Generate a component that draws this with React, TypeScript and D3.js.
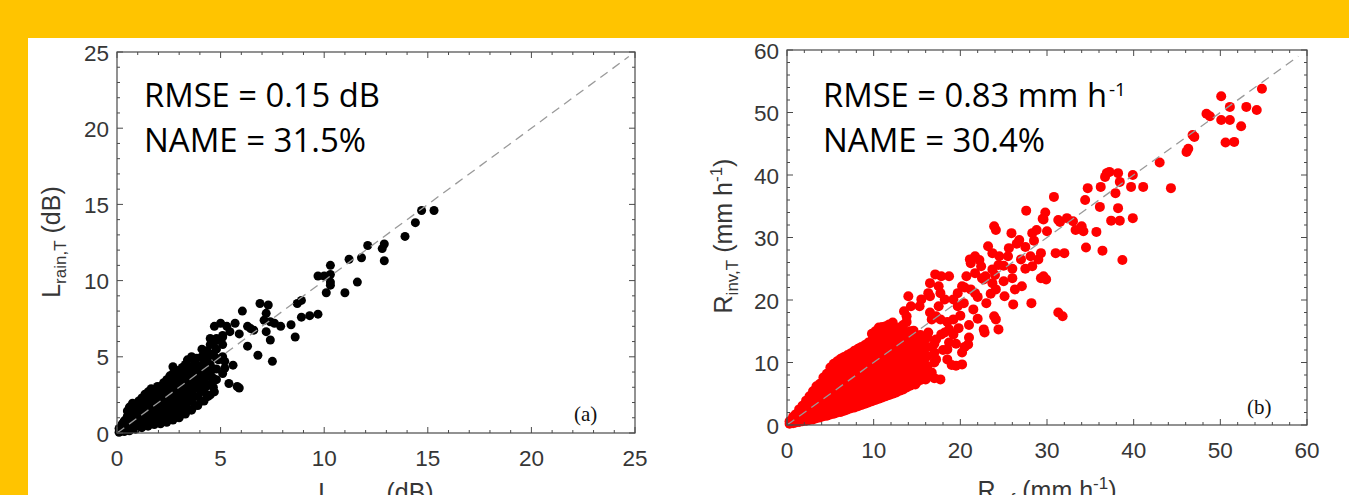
import React from "react";
import * as d3 from "d3";

// ---------- DATA ----------
const lossTicks = [0, 5, 10, 15, 20, 25];
const rainTicks = [0, 10, 20, 30, 40, 50, 60];

// dense cloud of path-loss points: [x, list of y]
const lossCloudCols: [number, number[]][] = [
  [0.1, [0.05, 0.3]],
  [0.35, [0.1, 0.45, 0.8]],
  [0.6, [0.15, 0.55, 0.95, 1.35, 1.7]],
  [0.9, [0.25, 0.65, 1.05, 1.45, 1.85]],
  [1.2, [0.35, 0.75, 1.15, 1.55, 1.95, 2.3]],
  [1.5, [0.45, 0.85, 1.3, 1.75, 2.2, 2.7]],
  [1.8, [0.55, 1.0, 1.45, 1.9, 2.35, 2.8]],
  [2.1, [0.6, 1.1, 1.6, 2.1, 2.6, 3.05]],
  [2.4, [0.7, 1.2, 1.7, 2.2, 2.7, 3.2, 3.5]],
  [2.7, [0.85, 1.35, 1.85, 2.4, 2.95, 3.45, 3.9]],
  [3.0, [1.0, 1.5, 2.0, 2.55, 3.1, 3.6, 4.1]],
  [3.3, [1.25, 1.8, 2.35, 2.9, 3.45, 4.0, 4.5]],
  [3.6, [1.5, 2.1, 2.7, 3.25, 3.8, 4.35]],
  [3.9, [1.8, 2.4, 3.0, 3.6, 4.2]],
  [4.2, [2.1, 2.8, 3.4, 4.0, 4.6, 5.2]],
  [4.5, [2.5, 3.2, 3.9, 4.5, 5.1, 5.8]],
  [4.8, [3.5, 4.2, 4.9, 5.5, 6.2]],
  [5.1, [3.9, 5.0, 5.8, 6.4]],
];
const lossCloudMid: [number, number[]][] = [
  [0.25, [0.2, 0.6]],
  [0.5, [0.3, 0.7, 1.1, 1.45]],
  [0.75, [0.4, 0.8, 1.2, 1.6, 1.95]],
  [1.05, [0.45, 0.85, 1.25, 1.7, 2.1]],
  [1.35, [0.55, 0.95, 1.35, 1.8, 2.25, 2.55]],
  [1.65, [0.65, 1.1, 1.55, 2.0, 2.5, 2.9]],
  [1.95, [0.75, 1.25, 1.7, 2.15, 2.6, 3.05]],
  [2.25, [0.85, 1.35, 1.85, 2.35, 2.85, 3.3]],
  [2.55, [0.95, 1.45, 1.95, 2.45, 2.95, 3.45, 3.75]],
  [2.85, [1.1, 1.6, 2.15, 2.7, 3.2, 3.7, 4.1]],
  [3.15, [1.25, 1.75, 2.3, 2.8, 3.35, 3.85, 4.3]],
  [3.45, [1.5, 2.05, 2.6, 3.15, 3.7, 4.25]],
  [3.75, [1.8, 2.4, 2.95, 3.5, 4.05, 4.6]],
  [4.05, [2.1, 2.7, 3.3, 3.9, 4.4]],
  [4.35, [2.4, 3.1, 3.7, 4.3, 4.9, 5.4]],
  [4.65, [3.0, 3.6, 4.2, 5.2, 5.8]],
];

const lossOutliers: [number, number][] = [
  [15.3, 14.6], [14.7, 14.6], [14.4, 13.8], [13.9, 12.9], [12.9, 12.4], [12.8, 12.1],
  [12.9, 11.3], [12.1, 12.3], [11.8, 11.5], [11.2, 11.4], [11.0, 9.2], [11.6, 9.9],
  [10.3, 11.0], [10.3, 10.4], [10.0, 10.3], [9.7, 10.3], [10.3, 9.9], [10.3, 9.7],
  [10.1, 9.2], [9.7, 7.8], [9.3, 7.7], [8.9, 7.6], [8.9, 8.7], [8.7, 8.5], [8.6, 6.3],
  [8.4, 7.1], [7.9, 7.0], [7.6, 7.2], [7.4, 7.3], [7.1, 7.4], [7.2, 7.85], [6.9, 8.5],
  [7.3, 8.4], [7.2, 6.65], [7.4, 6.1], [7.5, 4.7], [6.05, 8.0], [6.3, 7.0], [6.6, 6.75],
  [6.45, 6.85], [5.3, 7.0], [5.7, 7.2], [5.9, 6.5], [6.3, 5.7], [6.8, 5.1], [5.9, 2.95],
  [5.8, 3.05], [5.4, 3.25], [4.4, 2.4], [4.7, 2.7], [4.9, 4.8], [5.2, 4.7], [5.6, 4.45],
  [5.2, 4.25], [4.1, 5.5], [4.5, 6.2], [4.8, 6.1], [5.1, 6.3], [5.45, 6.65], [3.4, 4.8],
  [3.6, 5.0], [3.85, 4.9], [4.1, 5.0], [2.7, 4.35], [5.0, 7.2], [4.7, 7.0],
];

// dense cloud of rain-rate points: [x, list of y]
const rainCloudCols: [number, number[]][] = [
  [0.3, [0.2, 0.6]],
  [1.0, [0.4, 1.0, 1.7]],
  [1.8, [0.6, 1.4, 2.3, 3.1]],
  [2.6, [0.8, 1.8, 2.8, 3.8, 4.6]],
  [3.4, [1.1, 2.1, 3.2, 4.3, 5.4, 6.2]],
  [4.2, [1.4, 2.5, 3.6, 4.7, 5.9, 7.0, 7.6]],
  [5.0, [1.7, 2.8, 4.0, 5.2, 6.4, 7.6, 8.6, 9.2]],
  [5.8, [2.0, 3.2, 4.4, 5.6, 6.8, 8.0, 9.2, 10.2]],
  [6.6, [2.3, 3.5, 4.8, 6.1, 7.4, 8.7, 9.9, 10.9]],
  [7.4, [2.7, 3.9, 5.2, 6.5, 7.8, 9.1, 10.4, 11.5]],
  [8.2, [3.0, 4.3, 5.6, 7.0, 8.3, 9.6, 10.9, 12.2]],
  [9.0, [3.4, 4.7, 6.0, 7.4, 8.8, 10.2, 11.6, 12.8]],
  [9.8, [3.8, 5.1, 6.5, 7.9, 9.3, 10.7, 12.1, 13.5, 14.6]],
  [10.6, [4.2, 5.5, 6.9, 8.3, 9.8, 11.2, 12.6, 14.0, 15.6]],
  [11.4, [4.6, 6.0, 7.4, 8.8, 10.3, 11.8, 13.2, 14.6, 15.8]],
  [12.2, [5.0, 6.4, 7.8, 9.3, 10.8, 12.3, 13.8, 15.2, 16.4]],
  [13.0, [5.5, 6.9, 8.3, 9.8, 11.3, 12.8, 14.3, 15.6]],
  [13.8, [6.0, 7.4, 8.8, 10.3, 11.8, 13.2, 14.8, 16.5]],
  [14.6, [6.6, 8.0, 9.4, 10.8, 12.3, 13.7, 15.1]],
  [15.4, [7.2, 8.6, 10.0, 11.5, 12.9, 14.4]],
  [16.2, [8.0, 9.4, 11.0, 12.5, 14.0]],
  [17.0, [7.5, 10.0, 11.6, 13.0]],
];
const rainCloudMid: [number, number[]][] = [
  [0.7, [0.3, 0.9, 1.3]],
  [1.4, [0.5, 1.2, 1.9, 2.5]],
  [2.2, [0.7, 1.6, 2.5, 3.4, 3.9]],
  [3.0, [0.9, 1.9, 2.9, 4.0, 4.9, 5.4]],
  [3.8, [1.2, 2.3, 3.4, 4.5, 5.6, 6.6]],
  [4.6, [1.5, 2.6, 3.8, 5.0, 6.2, 7.3, 8.2]],
  [5.4, [1.8, 3.0, 4.2, 5.4, 6.6, 7.8, 8.9, 9.8]],
  [6.2, [2.1, 3.3, 4.6, 5.9, 7.1, 8.4, 9.6, 10.6]],
  [7.0, [2.5, 3.7, 5.0, 6.3, 7.6, 8.9, 10.2, 11.2]],
  [7.8, [2.8, 4.1, 5.4, 6.7, 8.0, 9.4, 10.7, 11.9]],
  [8.6, [3.2, 4.5, 5.8, 7.2, 8.6, 9.9, 11.2, 12.5]],
  [9.4, [3.6, 4.9, 6.2, 7.6, 9.0, 10.4, 11.8, 13.2]],
  [10.2, [4.0, 5.3, 6.7, 8.1, 9.5, 11.0, 12.4, 13.8, 15.0]],
  [11.0, [4.4, 5.8, 7.2, 8.6, 10.0, 11.5, 12.9, 14.3, 15.7]],
  [11.8, [4.8, 6.2, 7.6, 9.0, 10.5, 12.0, 13.5, 14.9, 16.1]],
  [12.6, [5.2, 6.6, 8.0, 9.5, 11.0, 12.5, 14.0, 15.4]],
  [13.4, [5.7, 7.1, 8.5, 10.0, 11.5, 13.0, 14.5, 16.0]],
  [14.2, [6.3, 7.7, 9.1, 10.5, 12.0, 13.5, 15.0]],
  [15.0, [6.9, 8.3, 9.7, 11.2, 12.6, 14.1]],
  [15.8, [7.6, 9.0, 10.5, 12.0, 13.4]],
];

const rainOutliers: [number, number][] = [
  [54.8, 53.8], [50.1, 52.6], [51.1, 50.9], [53.0, 50.9], [54.2, 50.4], [50.1, 48.8],
  [51.1, 48.8], [52.4, 47.8], [50.6, 45.2], [51.6, 45.3], [48.4, 49.8], [48.8, 49.4],
  [47.0, 46.1], [46.8, 46.4], [46.1, 43.7], [46.3, 44.2], [43.0, 42.0], [44.3, 37.9],
  [41.1, 38.1], [39.9, 40.0], [39.7, 38.1], [39.9, 33.1], [38.2, 40.3], [38.4, 38.9],
  [37.9, 37.1], [38.2, 34.7], [38.4, 32.7], [37.4, 32.7], [38.7, 26.4], [36.9, 40.3],
  [36.7, 39.7], [37.2, 40.5], [36.2, 38.1], [36.1, 34.9], [36.4, 27.9], [35.7, 30.9],
  [34.7, 37.9], [34.4, 36.0], [34.5, 28.4], [34.0, 31.8], [34.2, 31.0], [33.3, 31.2],
  [33.0, 32.6], [32.3, 33.1], [31.3, 32.8], [30.8, 36.5], [31.0, 27.5], [32.0, 27.5],
  [31.3, 18.0], [31.8, 17.4], [29.8, 34.0], [29.6, 32.9], [28.8, 31.2], [28.3, 30.7],
  [27.6, 34.3], [28.2, 19.5], [29.6, 23.8], [29.9, 23.3], [29.3, 23.5], [29.3, 27.5],
  [29.0, 26.5], [28.1, 27.0], [28.3, 25.4], [26.8, 29.6], [25.9, 30.7], [25.6, 28.3],
  [26.3, 21.7], [27.1, 22.2], [26.1, 19.3], [25.1, 20.6], [24.1, 31.2], [23.9, 31.8],
  [23.2, 28.6], [23.7, 27.5], [24.4, 25.6], [23.7, 24.9], [22.2, 26.4], [21.7, 27.0],
  [21.2, 25.9], [22.4, 25.4], [22.7, 23.3], [23.7, 22.7], [22.9, 23.8], [24.1, 21.7],
  [23.9, 17.4], [24.1, 16.9], [24.4, 15.3], [22.7, 15.3], [22.8, 14.8], [21.1, 26.5],
  [21.7, 24.3], [20.7, 23.8], [20.2, 22.2], [19.7, 21.1], [21.2, 21.7], [21.7, 21.1],
  [20.4, 19.5], [19.7, 19.0], [19.2, 20.1], [20.9, 12.9], [20.2, 11.6], [19.2, 16.9],
  [18.7, 15.3], [18.2, 14.8], [19.2, 14.5], [18.7, 23.8], [17.8, 23.8], [17.1, 24.1],
  [17.5, 22.2], [16.5, 22.7], [16.3, 21.1], [16.5, 20.6], [17.7, 21.1], [18.2, 20.1],
  [17.2, 17.4], [16.7, 16.9], [17.7, 16.9], [14.0, 20.6], [14.3, 19.0], [13.5, 18.2],
  [13.8, 17.4], [15.3, 19.0], [15.5, 20.1], [17.7, 7.3], [16.7, 8.4], [16.0, 7.3],
  [14.8, 6.5], [15.8, 10.0], [17.2, 10.5], [18.7, 13.2], [18.5, 12.1], [19.5, 9.5],
  [20.2, 9.7], [16.3, 14.8], [17.2, 13.7], [15.3, 12.1], [14.5, 10.0], [18.0, 12.0],
  [18.5, 10.5], [19.0, 9.6], [17.8, 14.5], [19.5, 13.0], [20.5, 12.5], [19.8, 15.5],
  [21.0, 14.0], [16.5, 18.0], [18.5, 16.5], [17.5, 19.0], [20.0, 17.5], [21.5, 18.5],
  [22.0, 20.5], [20.5, 22.0], [22.5, 23.5], [23.5, 21.0], [24.0, 24.0], [25.0, 23.0],
  [26.0, 25.0], [25.5, 27.0], [27.5, 28.5], [28.5, 29.5], [27.0, 26.5], [26.5, 29.0],
  [30.0, 31.0], [29.5, 33.0], [22.0, 17.0], [21.0, 16.0], [23.0, 19.5], [25.0, 25.5],
  [24.5, 27.0], [26.0, 23.5], [27.5, 25.0], [31.5, 32.5],
];

const flatten = (cols: [number, number[]][]): [number, number][] =>
  cols.flatMap(([x, ys]) => ys.map((y) => [x, y] as [number, number]));

const lossPoints = [...flatten(lossCloudCols), ...flatten(lossCloudMid), ...lossOutliers];
const rainPoints = [...flatten(rainCloudCols), ...flatten(rainCloudMid), ...rainOutliers];

// ---------- STYLE ----------
const W = 1349;
const H = 495;
const TICK_FONT = "'Liberation Sans', Arial, Helvetica, sans-serif";
const NOTE_FONT = "'Open Sans', 'Noto Sans', sans-serif";
const SERIF = "'Liberation Serif', 'Times New Roman', serif";
const AXIS_COLOR = "#4a4a4a";
const TEXT_COLOR = "#363636";

type PanelProps = {
  left: number; right: number; top: number; bottom: number;
  max: number; ticks: number[]; minorStep: number; lineEnd: number;
  points: [number, number][]; color: string; r: number;
  tag: string; tagX: number; tagY: number;
};

function Panel(p: PanelProps) {
  const x = d3.scaleLinear().domain([0, p.max]).range([p.left, p.right]);
  const y = d3.scaleLinear().domain([0, p.max]).range([p.bottom, p.top]);
  const minor = d3.range(0, p.max + 1e-9, p.minorStep);
  const major = 6;
  const minorLen = 3;
  const isMajor = (v: number) => p.ticks.some((t) => Math.abs(t - v) < 1e-9);
  const line = d3.line<[number, number]>().x((d) => x(d[0])).y((d) => y(d[1]));
  return (
    <g>
      {p.points.map((d, i) => (
        <circle key={i} cx={x(d[0])} cy={y(d[1])} r={p.r} fill={p.color} />
      ))}
      <path d={line([[0, 0], [p.lineEnd, p.lineEnd]]) || ""} stroke="#9a9a9a" strokeWidth={1.3}
        strokeDasharray="9,6" fill="none" />
      <rect x={p.left} y={p.top} width={p.right - p.left} height={p.bottom - p.top}
        fill="none" stroke={AXIS_COLOR} strokeWidth={1.2} />
      {minor.map((v) => {
        const len = isMajor(v) ? major : minorLen;
        return (
          <g key={"t" + v} stroke={AXIS_COLOR} strokeWidth={1}>
            <line x1={x(v)} x2={x(v)} y1={p.bottom} y2={p.bottom - len} />
            <line x1={x(v)} x2={x(v)} y1={p.top} y2={p.top + len} />
            <line x1={p.left} x2={p.left + len} y1={y(v)} y2={y(v)} />
            <line x1={p.right} x2={p.right - len} y1={y(v)} y2={y(v)} />
          </g>
        );
      })}
      {p.ticks.map((v) => (
        <text key={"xl" + v} x={x(v)} y={p.bottom + 33} textAnchor="middle"
          fontFamily={TICK_FONT} fontSize={22.5} fill={TEXT_COLOR}>{v}</text>
      ))}
      {p.ticks.map((v) => (
        <text key={"yl" + v} x={p.left - 8} y={y(v) + 8.5} textAnchor="end"
          fontFamily={TICK_FONT} fontSize={22.5} fill={TEXT_COLOR}>{v}</text>
      ))}
      <text x={p.tagX} y={p.tagY} fontFamily={SERIF} fontSize={21} fill="#111">{p.tag}</text>
    </g>
  );
}

export default function App() {
  return (
    <svg width={W} height={H} style={{ position: "absolute", left: 0, top: 0, display: "block" }}>
      <rect x={0} y={0} width={W} height={H} fill="#FFC400" />
      <rect x={28} y={38} width={W - 28} height={H - 38} fill="#fff" />

      <Panel left={117} right={635} top={52} bottom={433} max={25} ticks={lossTicks}
        minorStep={1} lineEnd={24.7} points={lossPoints} color="#000" r={4.5}
        tag="(a)" tagX={574} tagY={421} />
      <Panel left={787} right={1307} top={50} bottom={425} max={60} ticks={rainTicks}
        minorStep={2} lineEnd={59} points={rainPoints} color="#ff0000" r={5}
        tag="(b)" tagX={1247} tagY={414} />

      {/* annotations */}
      <text x={144} y={107} fontFamily={NOTE_FONT} fontSize={33} fill="#000"
        textLength={236} lengthAdjust="spacingAndGlyphs">RMSE = 0.15 dB</text>
      <text x={144} y={152} fontFamily={NOTE_FONT} fontSize={33} fill="#000"
        textLength={222} lengthAdjust="spacingAndGlyphs">NAME = 31.5%</text>
      <text x={823} y={107} fontFamily={NOTE_FONT} fontSize={33} fill="#000"
        textLength={284} lengthAdjust="spacingAndGlyphs">RMSE = 0.83 mm h</text>
      <text x={1109} y={96} fontFamily={NOTE_FONT} fontSize={19} fill="#000">-1</text>
      <text x={823} y={152} fontFamily={NOTE_FONT} fontSize={33} fill="#000"
        textLength={222} lengthAdjust="spacingAndGlyphs">NAME = 30.4%</text>

      {/* axis labels */}
      <text transform="translate(60,242) rotate(-90)" textAnchor="middle"
        fontFamily={TICK_FONT} fontSize={25} fill={TEXT_COLOR}>
        <tspan>L</tspan>
        <tspan dy={6} fontSize={17}>rain,T</tspan>
        <tspan dy={-6}> (dB)</tspan>
      </text>
      <text transform="translate(732,236) rotate(-90)" textAnchor="middle"
        fontFamily={TICK_FONT} fontSize={25} fill={TEXT_COLOR}>
        <tspan>R</tspan>
        <tspan dy={6} fontSize={17}>inv,T</tspan>
        <tspan dy={-6}> (mm h</tspan>
        <tspan dy={-10} fontSize={17}>-1</tspan>
        <tspan dy={10}>)</tspan>
      </text>
      <text x={376} y={501} textAnchor="middle" fontFamily={TICK_FONT} fontSize={25} fill={TEXT_COLOR}>
        <tspan>L</tspan>
        <tspan dy={6} fontSize={17}>rain,M</tspan>
        <tspan dy={-6}> (dB)</tspan>
      </text>
      <text x={1047} y={499} textAnchor="middle" fontFamily={TICK_FONT} fontSize={25} fill={TEXT_COLOR}>
        <tspan>R</tspan>
        <tspan dy={6} fontSize={17}>ref</tspan>
        <tspan dy={-6}> (mm h</tspan>
        <tspan dy={-10} fontSize={17}>-1</tspan>
        <tspan dy={10}>)</tspan>
      </text>
    </svg>
  );
}
